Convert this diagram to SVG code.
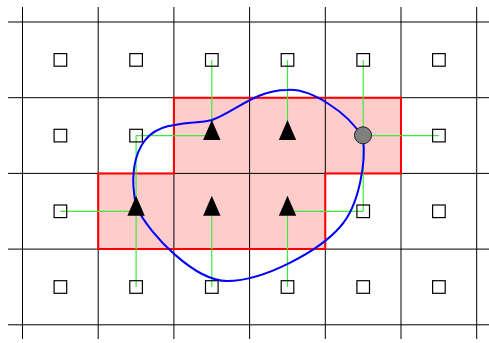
<svg xmlns="http://www.w3.org/2000/svg" width="489" height="343" viewBox="0 0 489 343">
<style>
.grid{stroke:#000;stroke-width:1;fill:none}
.link{stroke:#3ee83e;stroke-width:1.2;fill:none}
.sq{fill:none;stroke:#000;stroke-width:1.2}
.tri{fill:#000}
.dot{fill:#808080;stroke:#222;stroke-width:1}
.region{fill:#ffcccc;stroke:none}
.border{fill:none;stroke:#ff0000;stroke-width:2}
.curve{fill:none;stroke:#0000ff;stroke-width:2}
</style>
<rect width="489" height="343" fill="#fff"/>
<path class="region" d="M173.9,97.7H401V173.4H325.3V249.1H98.2V173.4H173.9Z"/>
<g id="grid" class="grid">
<path d="M8,22H489M8,97.7H489M8,173.4H489M8,249.1H489M8,324.8H489"/>
<path d="M22.5,7V339M98.2,7V339M173.9,7V339M249.6,7V339M325.3,7V339M401,7V339M476.7,7V339"/>
</g>
<path class="border" d="M173.9,97.7H401V173.4H325.3V249.1H98.2V173.4H173.9Z"/>
<g id="connectors" class="link">
<path d="M211.8,59.9V135.6"/>
<path d="M287.5,59.9V135.6"/>
<path d="M363.2,59.9V211.3"/>
<path d="M363.2,135.6H438.9"/>
<path d="M287.5,211.3H363.2"/>
<path d="M136.1,135.6H211.8"/>
<path d="M136.1,135.6V287"/>
<path d="M60.4,211.3H136.1"/>
<path d="M211.8,211.3V287"/>
<path d="M287.5,211.3V287"/>
</g>
<g id="squares">
<g id="s00"><rect class="sq" x="54.1" y="53.6" width="12.6" height="12.6"/></g>
<g id="s01"><rect class="sq" x="129.8" y="53.6" width="12.6" height="12.6"/></g>
<g id="s02"><rect class="sq" x="205.5" y="53.6" width="12.6" height="12.6"/></g>
<g id="s03"><rect class="sq" x="281.2" y="53.6" width="12.6" height="12.6"/></g>
<g id="s04"><rect class="sq" x="356.9" y="53.6" width="12.6" height="12.6"/></g>
<g id="s05"><rect class="sq" x="432.6" y="53.6" width="12.6" height="12.6"/></g>
<g id="s10"><rect class="sq" x="54.1" y="129.3" width="12.6" height="12.6"/></g>
<g id="s11"><rect class="sq" x="129.8" y="129.3" width="12.6" height="12.6"/></g>
<g id="s15"><rect class="sq" x="432.6" y="129.3" width="12.6" height="12.6"/></g>
<g id="s20"><rect class="sq" x="54.1" y="205" width="12.6" height="12.6"/></g>
<g id="s24"><rect class="sq" x="356.9" y="205" width="12.6" height="12.6"/></g>
<g id="s25"><rect class="sq" x="432.6" y="205" width="12.6" height="12.6"/></g>
<g id="s30"><rect class="sq" x="54.1" y="280.7" width="12.6" height="12.6"/></g>
<g id="s31"><rect class="sq" x="129.8" y="280.7" width="12.6" height="12.6"/></g>
<g id="s32"><rect class="sq" x="205.5" y="280.7" width="12.6" height="12.6"/></g>
<g id="s33"><rect class="sq" x="281.2" y="280.7" width="12.6" height="12.6"/></g>
<g id="s34"><rect class="sq" x="356.9" y="280.7" width="12.6" height="12.6"/></g>
<g id="s35"><rect class="sq" x="432.6" y="280.7" width="12.6" height="12.6"/></g>
</g>
<path id="boundary" class="curve" d="M287,90C310,88 348,112 363,138C366,160 360,205 340,227C320,250 265,281 227,281C195,281 150,235 137,208C130,185 128,130 175,125C190,122 200,123 212,120C235,112 255,90 287,90Z"/>
<g id="markers">
<g id="t12"><polygon class="tri" points="211.8,120.1 203.1,140.1 220.5,140.1"/></g>
<g id="t13"><polygon class="tri" points="287.5,120.1 278.8,140.1 296.2,140.1"/></g>
<g id="t21"><polygon class="tri" points="136.1,195.8 127.4,215.8 144.8,215.8"/></g>
<g id="t22"><polygon class="tri" points="211.8,195.8 203.1,215.8 220.5,215.8"/></g>
<g id="t23"><polygon class="tri" points="287.5,195.8 278.8,215.8 296.2,215.8"/></g>
<g id="c14"><circle class="dot" cx="363" cy="135.3" r="8.5"/></g>
</g>
</svg>
